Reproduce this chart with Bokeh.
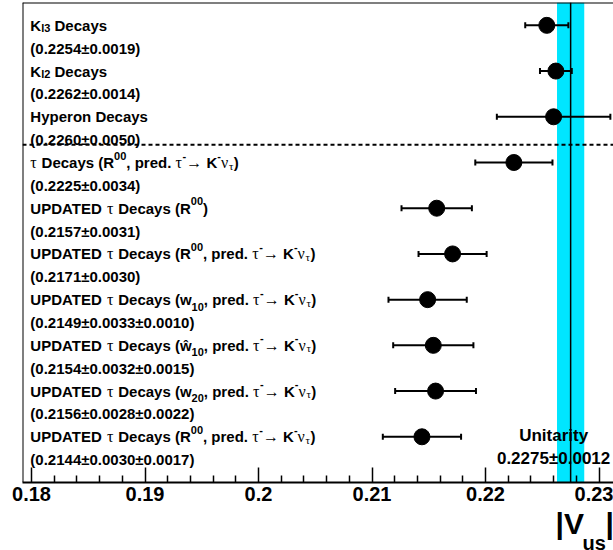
from bokeh.plotting import figure
from bokeh.layouts import column
from bokeh.models import (ColumnDataSource, Range1d, FixedTicker, Span, BoxAnnotation,
                          Whisker, TeeHead)
from bokeh.core.properties import value, field
from bokeh.embed import file_html
from bokeh.resources import INLINE

# ---------------- data ----------------
names = [
    "K_{l3} Decays",
    "K_{l2} Decays",
    "Hyperon Decays",
    "#tau Decays (R^{00}, pred. #tau^{-}#rightarrow K^{-}#nu_{#tau})",
    "UPDATED #tau Decays (R^{00})",
    "UPDATED #tau Decays (R^{00}, pred. #tau^{-}#rightarrow K^{-}#nu_{#tau})",
    "UPDATED #tau Decays (w_{10}, pred. #tau^{-}#rightarrow K^{-}#nu_{#tau})",
    "UPDATED #tau Decays (#hat{w}_{10}, pred. #tau^{-}#rightarrow K^{-}#nu_{#tau})",
    "UPDATED #tau Decays (w_{20}, pred. #tau^{-}#rightarrow K^{-}#nu_{#tau})",
    "UPDATED #tau Decays (R^{00}, pred. #tau^{-}#rightarrow K^{-}#nu_{#tau})",
]
vus = [0.2254, 0.2262, 0.2260, 0.2225, 0.2157, 0.2171, 0.2149, 0.2154, 0.2156, 0.2144]
stat = [0.0019, 0.0014, 0.0050, 0.0034, 0.0031, 0.0030, 0.0033, 0.0032, 0.0028, 0.0030]
syst = [0.0, 0.0, 0.0, 0.0, 0.0, 0.0, 0.0010, 0.0015, 0.0022, 0.0017]
unit_val = 0.2275
unit_err = 0.0012
tick_vals = [0.18, 0.19, 0.20, 0.21, 0.22, 0.23]
tick_labels = ["0.18", "0.19", "0.2", "0.21", "0.22", "0.23"]
minor_vals = [0.182, 0.184, 0.186, 0.188, 0.192, 0.194, 0.196, 0.198, 0.202, 0.204,
              0.206, 0.208, 0.212, 0.214, 0.216, 0.218, 0.222, 0.224, 0.226, 0.228]
axis_title = ["|V", "us", "|"]

# ---------------- layout constants ----------------
X0, X1 = 0.179207, 0.231277
Y0, Y1 = 0.0, 10.5
SEP_Y = 7.39
LABEL_X = 0.1799
SANS = "Liberation Sans"
SERIF = "Liberation Serif"

n = len(names)
ypos = [n - i for i in range(n)]
tot = [(s ** 2 + e ** 2) ** 0.5 for s, e in zip(stat, syst)]

xr = Range1d(X0, X1)
p = figure(width=613, height=510, output_backend="svg", toolbar_location=None,
           x_range=xr, y_range=Range1d(Y0, Y1), y_axis_location=None,
           min_border_left=22, min_border_right=0, min_border_top=2, min_border_bottom=28)
p.outline_line_color = None
p.grid.visible = False
p.background_fill_color = "white"
p.border_fill_color = "white"

ax = p.xaxis[0]
ax.ticker = FixedTicker(ticks=tick_vals, minor_ticks=minor_vals)
ax.major_label_overrides = {t: l for t, l in zip(tick_vals, tick_labels)}
ax.major_label_text_font = SANS
ax.major_label_text_font_style = "bold"
ax.major_label_text_font_size = "20px"
ax.major_label_text_color = "black"
ax.major_label_standoff = 4
ax.axis_line_width = 2
ax.axis_line_color = "black"
ax.major_tick_in = 15
ax.major_tick_out = 0
ax.minor_tick_in = 7
ax.minor_tick_out = 0
ax.major_tick_line_width = 1.5
ax.minor_tick_line_width = 1.5
ax.major_tick_line_color = "black"
ax.minor_tick_line_color = "black"

# unitarity band
band = BoxAnnotation(left=unit_val - unit_err, right=unit_val + unit_err,
                     fill_color="#00e6ff", fill_alpha=1.0, line_color=None, level="underlay")
p.add_layout(band)
p.add_layout(Span(location=unit_val, dimension="height", line_color="black", line_width=1.5))

# frame lines
p.add_layout(Span(location=X0, dimension="height", line_color="black", line_width=2))
p.add_layout(Span(location=Y1, dimension="width", line_color="black", line_width=2))
p.add_layout(Span(location=SEP_Y, dimension="width", line_color="black", line_width=2,
                  line_dash="4 3"))

# points + error bars
src = ColumnDataSource(dict(v=vus, y=ypos, lo=[v - e for v, e in zip(vus, tot)],
                            hi=[v + e for v, e in zip(vus, tot)]))
wh = Whisker(base="y", lower="lo", upper="hi", dimension="width", source=src,
             line_color="black", line_width=2, level="glyph",
             upper_head=TeeHead(size=6, line_width=2, line_color="black"),
             lower_head=TeeHead(size=6, line_width=2, line_color="black"))
p.add_layout(wh)
p.scatter(x="v", y="y", source=src, size=16, color="black")

# ---------------- rich label text ----------------
GREEK = {"#tau": "τ", "#nu": "ν", "#rightarrow": "→"}
W_SANS = dict(zip("ABCDEFGHIJKLMNOPQRSTUVWXYZ",
                  [722, 722, 722, 722, 667, 611, 778, 722, 278, 556, 722, 611, 833, 722, 778,
                   667, 778, 722, 667, 611, 722, 667, 944, 667, 667, 611]))
W_SANS.update(zip("abcdefghijklmnopqrstuvwxyz",
                  [556, 611, 556, 611, 556, 333, 611, 611, 278, 278, 556, 278, 889, 611, 611,
                   611, 611, 389, 556, 333, 611, 556, 778, 556, 556, 500]))
W_SANS.update({c: 556 for c in "0123456789"})
W_SANS.update({" ": 278, "(": 333, ")": 333, ",": 278, "-": 333, ".": 278, "±": 584, "ŵ": 778})
W_SERIF = {"τ": 440, "ν": 500, "→": 1000, " ": 250}


def tokens(s, mode="n"):
    out = []
    i = 0
    while i < len(s):
        if s.startswith("#hat{w}", i):
            out.append(("ŵ", mode, False)); i += 7; continue
        m = next((k for k in GREEK if s.startswith(k, i)), None)
        if m:
            out.append((GREEK[m], mode, True)); i += len(m); continue
        if s[i] in "_^" and i + 1 < len(s) and s[i + 1] == "{":
            j = s.index("}", i)
            out += tokens(s[i + 2:j], "sub" if s[i] == "_" else "sup")
            i = j + 1; continue
        out.append((s[i], mode, False)); i += 1
    return out


rows = dict(x=[], y=[], text=[], xo=[], yo=[], size=[], font=[], style=[])


def add_rich(name, y):
    segs = []
    for ch, mode, gk in tokens(name):
        if segs and segs[-1][1] == mode and segs[-1][2] == gk:
            segs[-1][0] += ch
        else:
            segs.append([ch, mode, gk])
    xo = 0.0
    prev = ""
    for txt, mode, gk in segs:
        if mode == "n":
            size, dy = (16 if gk else 15), 0
        elif mode == "sub":
            size, dy = 11, (7 if prev and prev[-1] in "wŵ" else 3)
        else:
            size, dy = 11, -7
        table = W_SERIF if gk else W_SANS
        # leading spaces are collapsed by SVG: advance manually
        stripped = txt.lstrip(" ")
        xo += (len(txt) - len(stripped)) * table[" "] / 1000.0 * size
        rows["x"].append(LABEL_X); rows["y"].append(y); rows["text"].append(stripped)
        rows["xo"].append(xo); rows["yo"].append(dy)
        rows["size"].append(f"{size}px")
        rows["font"].append(SERIF if gk else SANS)
        rows["style"].append("normal" if gk else "bold")
        xo += sum(table.get(c, 556) for c in stripped) / 1000.0 * size
        prev = txt


for name, y, v, s, e in zip(names, ypos, vus, stat, syst):
    add_rich(name, y)
    line2 = f"({v:.4f}±{s:.4f}" + (f"±{e:.4f})" if e > 0 else ")")
    rows["x"].append(LABEL_X); rows["y"].append(y - 0.5); rows["text"].append(line2)
    rows["xo"].append(0); rows["yo"].append(0); rows["size"].append("15px")
    rows["font"].append(SANS); rows["style"].append("bold")

tsrc = ColumnDataSource(rows)
p.text(x="x", y="y", text="text", source=tsrc, x_offset="xo", y_offset="yo",
       text_font=field("font"), text_font_style=field("style"),
       text_font_size=field("size"), text_color="black",
       text_align="left", text_baseline="alphabetic")

# unitarity text
p.text(x=[0.226, 0.226], y=[1.028, 0.525],
       text=["Unitarity", f"{unit_val:.4f}±{unit_err:.4f}"],
       text_font=value(SANS), text_font_style="bold", text_font_size="17px",
       text_color="black", text_align="center", text_baseline="alphabetic")

# ---------------- axis title strip: |V_us| ----------------
t = figure(width=613, height=40, output_backend="svg", toolbar_location=None, title=None,
           x_range=xr, y_range=Range1d(0, 40), x_axis_location=None, y_axis_location=None,
           min_border_left=22, min_border_right=0, min_border_top=0, min_border_bottom=0)
t.outline_line_color = None
t.grid.visible = False
t.background_fill_color = "white"
t.border_fill_color = "white"
title_src = ColumnDataSource(dict(x=[0.226167, 0.228546, 0.230573], y=[27, 8, 27],
                                  text=axis_title, fs=["30px", "20px", "30px"]))
t.text(x="x", y="y", text="text", source=title_src,
       text_font=value(SANS), text_font_style="bold",
       text_font_size=field("fs"), text_color="black",
       text_align="left", text_baseline="alphabetic")

layout = column(p, t, spacing=0)
open("out.html", "w").write(file_html(layout, INLINE))
